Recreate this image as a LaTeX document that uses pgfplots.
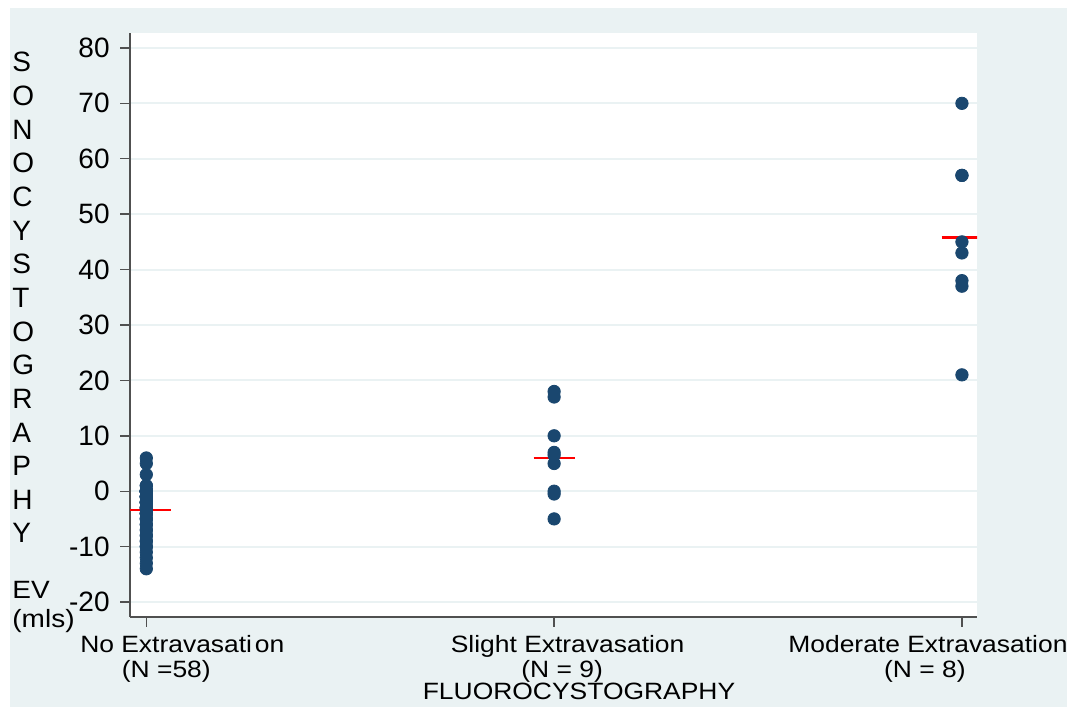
\documentclass[border=0pt]{standalone}
\usepackage{pgfplots}
\pgfplotsset{compat=1.18}
\usepackage{pgfplotstable}
\usepackage{fontspec}
\setmainfont{Liberation Sans}
\newfontfamily\catfont[FakeStretch=1.12]{Liberation Sans}
\definecolor{bgc}{RGB}{234,242,243}
\definecolor{navy}{RGB}{26,71,111}
\definecolor{axc}{RGB}{80,80,80}

\pgfplotstableread{
x y
1 6
1 5
1 3
1 1
1 1
1 0
1 0
1 0
1 0
1 0
1 0
1 0
1 0
1 0
1 0
1 0
1 0
1 0
1 -1
1 -1
1 -1
1 -1
1 -1
1 -1
1 -1
1 -2
1 -2
1 -2
1 -2
1 -2
1 -2
1 -2
1 -3
1 -3
1 -3
1 -3
1 -3
1 -4
1 -4
1 -4
1 -4
1 -5
1 -5
1 -5
1 -6
1 -6
1 -7
1 -7
1 -8
1 -8
1 -9
1 -9
1 -10
1 -10
1 -11
1 -12
1 -13
1 -14
}\noext

\pgfplotstableread{
x y
2 18
2 17
2 10
2 7
2 6.5
2 5
2 0
2 -0.5
2 -5
}\slight

\pgfplotstableread{
x y
3 70
3 57
3 57
3 45
3 43
3 38
3 37
3 21
}\moderate

\begin{document}
\begin{tikzpicture}[x=0.5bp,y=0.5bp]
\path[use as bounding box] (0,0) rectangle (1070,707);
\fill[bgc] (10,0) rectangle (1067,699);
\begin{axis}[
  at={(65bp,45bp)}, anchor=south west,
  scale only axis, width=423.5bp, height=292bp,
  xmin=0.96, xmax=3.037, ymin=-22.7, ymax=82.7,
  axis x line*=bottom, axis y line*=left,
  axis line style={axc, line width=0.7bp},
  axis background/.style={fill=white},
  tick align=outside, major tick length=5bp,
  every tick/.style={axc, line width=0.7bp},
  xtick={1,2,3}, ytick={-20,-10,0,10,20,30,40,50,60,70,80},
  yticklabels={-20,-10,0,10,20,30,40,50,60,70,80},
  yticklabel style={font=\fontsize{14bp}{14bp}\selectfont, inner sep=0pt, anchor=east, xshift=-5bp},
  xticklabels={
    {\hspace*{36bp}No Extravasati\hspace{0.12em}on\\\hspace*{20bp}(N =58)},
    {\hspace*{13.5bp}Slight Extravasation\\\hspace*{8bp}(N = 9)},
    {Moderate Extravasation\hspace*{34bp}\\(N = 8)\hspace*{37bp}}},
  xticklabel style={font=\catfont\fontsize{11.8bp}{12.5bp}\selectfont, align=center, inner sep=0pt, anchor=north, yshift=-4bp},
  xlabel={FLUOROCYSTOGRAPHY},
  xlabel style={font=\catfont\fontsize{11.8bp}{12.5bp}\selectfont, at={(axis description cs:0.5,0)}, anchor=base, inner sep=0pt, yshift=-41.5bp, xshift=12.75bp},
  ymajorgrids, grid style={bgc, line width=1bp},
  clip=true,
]
\addplot[only marks, mark=*, mark size=3.1bp, color=navy, mark options={draw=navy, fill=navy}] table[x=x, y=y] {\noext};
\addplot[only marks, mark=*, mark size=3.1bp, color=navy, mark options={draw=navy, fill=navy}] table[x=x, y=y] {\slight};
\addplot[only marks, mark=*, mark size=3.1bp, color=navy, mark options={draw=navy, fill=navy}] table[x=x, y=y] {\moderate};
\addplot[red, line width=1.1bp] coordinates {(0.94,-3.4) (1.06,-3.4)};
\addplot[red, line width=1.1bp] coordinates {(1.95,6) (2.05,6)};
\addplot[red, line width=1.1bp] coordinates {(2.95,45.8) (3.05,45.8)};
\end{axis}
\foreach \l [count=\i from 0] in {S,O,N,O,C,Y,S,T,O,G,R,A,P,H,Y}
  \node[anchor=base west, inner sep=0pt, font=\fontsize{14bp}{14bp}\selectfont] at (12, 635-33.64*\i) {\l};
\node[anchor=base west, inner sep=0pt, font=\catfont\fontsize{12.5bp}{12.5bp}\selectfont] at (12,108) {EV};
\node[anchor=base west, inner sep=0pt, font=\catfont\fontsize{12.5bp}{12.5bp}\selectfont] at (12,79) {(mls)};
\end{tikzpicture}
\end{document}
